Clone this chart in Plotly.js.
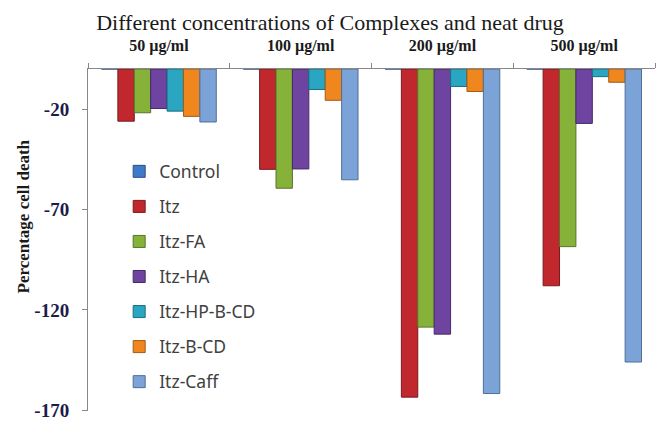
<!DOCTYPE html>
<html>
<head>
<meta charset="utf-8">
<script src="https://cdn.plot.ly/plotly-3.0.1.min.js"></script>
<style>html,body{margin:0;padding:0;background:#fff;}#chart{width:656px;height:421px;}</style>
</head>
<body>
<div id="chart"></div>
<script>
const categories = ["50 µg/ml", "100 µg/ml", "200 µg/ml", "500 µg/ml"];
const seriesNames = ["Control", "Itz", "Itz-FA", "Itz-HA", "Itz-HP-B-CD", "Itz-B-CD", "Itz-Caff"];
const control = [0, 0, 0, 0];
const itz = [-26, -50, -163.5, -108];
const itzFA = [-21.8, -59.4, -128.6, -88.5];
const itzHA = [-19.7, -49.8, -132.1, -27.1];
const itzHPBCD = [-21, -10.2, -8.7, -3.8];
const itzBCD = [-23.6, -15.6, -11.2, -6.6];
const itzCaff = [-26.4, -55.2, -161.7, -146];
const yTicks = [-20, -70, -120, -170];

const seriesValues = [control, itz, itzFA, itzHA, itzHPBCD, itzBCD, itzCaff];
const colors = ["#3F7AC9", "#C0282D", "#86B23A", "#6E44A0", "#2AA5C2", "#F0861E", "#7CA3D8"];
const lineColors = ["#2A4F85", "#7A1A1D", "#56752A", "#45296A", "#1B6E82", "#A35A14", "#4F6E99"];

const traces = seriesNames.map((name, i) => ({
  type: "bar",
  name: name,
  x: categories,
  y: seriesValues[i],
  legendgroup: "g" + i,
  marker: {color: colors[i], line: {color: lineColors[i], width: 1}},
  hoverinfo: "skip"
}));

const serif = "Liberation Serif, DejaVu Serif, serif";

const layout = {
  width: 656, height: 421,
  margin: {l: 88, r: 1, t: 69, b: 10},
  paper_bgcolor: "#fff", plot_bgcolor: "#fff",
  barmode: "group", bargap: 0.19, bargroupgap: 0,
  showlegend: true,
  title: {
    text: "Different concentrations of Complexes and neat drug",
    font: {family: serif, size: 22, color: "#1a1a1a"},
    x: 0.503, xref: "container", xanchor: "center",
    y: 1 - 22/421, yref: "container", yanchor: "middle"
  },
  xaxis: {
    side: "top",
    type: "category",
    tickmode: "array", tickvals: categories, ticktext: categories,
    tickson: "boundaries",
    ticks: "outside", ticklen: 5, tickcolor: "#888",
    showline: true, linecolor: "#888", linewidth: 1,
    showgrid: false, zeroline: false,
    tickfont: {family: serif, size: 16, color: "#1a1a1a", weight: "bold"},
    ticklabelstandoff: 11
  },
  yaxis: {
    range: [-170.4, 0],
    tickmode: "array", tickvals: yTicks, ticktext: yTicks.map(String),
    ticks: "outside", ticklen: 5, tickcolor: "#888",
    showline: true, linecolor: "#888", linewidth: 1,
    showgrid: false, zeroline: false,
    tickfont: {family: serif, size: 19, color: "#1c1c4a", weight: "bold"},
    ticklabelstandoff: 9,
    ticklabeloverflow: "allow"
  },
  annotations: [{
    text: "Percentage cell death",
    xref: "paper", yref: "paper",
    x: -(88 - 23) / 567, xanchor: "center",
    y: (411 - 216.5) / 342, yanchor: "middle",
    textangle: -90, showarrow: false,
    font: {family: serif, size: 17, color: "#1a1a1a", weight: "bold"}
  }],
  legend: {
    x: 0.055, xanchor: "left",
    y: 0.753, yanchor: "top",
    bgcolor: "rgba(0,0,0,0)",
    traceorder: "grouped",
    tracegroupgap: 9.3,
    font: {family: "Noto Sans, Open Sans, sans-serif", size: 17.5, color: "#404040"},
    itemwidth: 30
  }
};

Plotly.newPlot("chart", traces, layout, {displayModeBar: false, staticPlot: true});
</script>
</body>
</html>
